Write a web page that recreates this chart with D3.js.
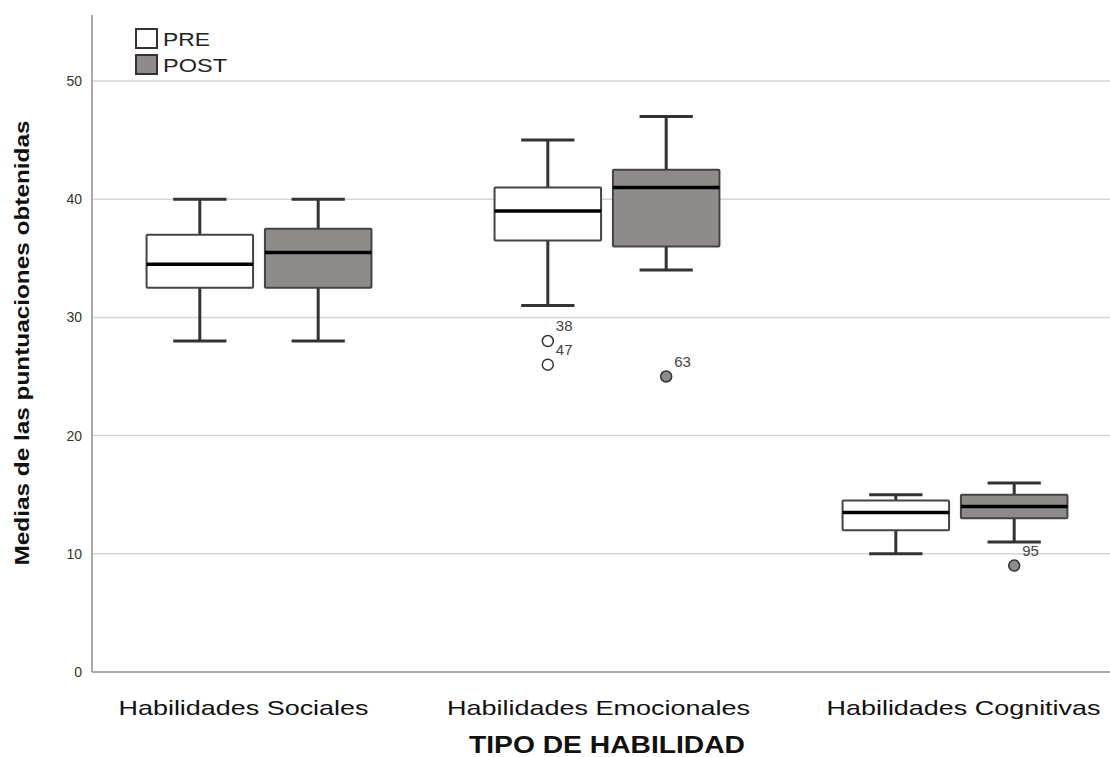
<!DOCTYPE html>
<html><head><meta charset="utf-8">
<script src="https://cdn.jsdelivr.net/npm/d3@7"></script>
<style>body{margin:0;background:#fff}svg{display:block}</style>
</head><body>
<svg id="c" width="1110" height="757"></svg>
<script>
const categories = ["Habilidades Sociales", "Habilidades Emocionales", "Habilidades Cognitivas"];
const groups = ["PRE", "POST"];
// [whiskerLow, q1, median, q3, whiskerHigh]
const preStats  = [[28, 32.5, 34.5, 37, 40], [31, 36.5, 39, 41, 45], [10, 12, 13.5, 14.5, 15]];
const postStats = [[28, 32.5, 35.5, 37.5, 40], [34, 36, 41, 42.5, 47], [11, 13, 14, 15, 16]];
// outliers: [categoryIndex, group, value, caseLabel]
const outliers = [[1, "PRE", 28, "38"], [1, "PRE", 26, "47"], [1, "POST", 25, "63"], [2, "POST", 9, "95"]];
const yTicks = [0, 10, 20, 30, 40, 50];
const fills = {PRE: "#ffffff", POST: "#8f8b8b"};

(function () {
const svg = d3.select("#c");
const mLeft = 92, mRight = 1110, mBottom = 672, mTop = 15;
const y = d3.scaleLinear().domain([0, 50]).range([mBottom, 81]);
const x = d3.scalePoint().domain(categories).range([259, 955]);
const g = d3.scaleBand().domain(groups).range([-116, 116]).paddingInner(0.1).paddingOuter(0.03);
const bw = g.bandwidth();

// gridlines
svg.append("g").selectAll("line").data(yTicks.filter(d => d > 0)).join("line")
  .attr("x1", mLeft).attr("x2", mRight).attr("y1", d => y(d)).attr("y2", d => y(d))
  .attr("stroke", "#d6d6d6").attr("stroke-width", 1.5);

// axes
const yAxis = d3.axisLeft(y).tickValues(yTicks).tickSize(0).tickPadding(10);
const ya = svg.append("g").attr("transform", `translate(${mLeft},0)`).call(yAxis);
ya.select(".domain").remove();
ya.selectAll("text").attr("font-family", "Liberation Sans, Arial, sans-serif").attr("font-size", 14).attr("fill", "#333");
svg.append("line").attr("x1", mLeft).attr("x2", mLeft).attr("y1", mTop).attr("y2", mBottom)
  .attr("stroke", "#a8a8a8").attr("stroke-width", 2);
svg.append("line").attr("x1", mLeft).attr("x2", mRight).attr("y1", mBottom).attr("y2", mBottom)
  .attr("stroke", "#a8a8a8").attr("stroke-width", 2);

const xAxis = d3.axisBottom(x).tickSize(0).tickPadding(28);
const xa = svg.append("g").attr("transform", `translate(0,${mBottom})`).call(xAxis);
xa.select(".domain").remove();
xa.selectAll("text").attr("font-family", "Liberation Sans Narrow, Arial Narrow, Liberation Sans, sans-serif")
  .attr("font-size", 21).attr("fill", "#111").attr("dx", (d, i) => [-16, -9, 8][i])
  .attr("textLength", (d, i) => [250, 303, 274][i]).attr("lengthAdjust", "spacingAndGlyphs");

// boxes
const boxes = [];
categories.forEach((c, i) => {
  boxes.push({c, grp: "PRE", s: preStats[i]});
  boxes.push({c, grp: "POST", s: postStats[i]});
});
const bx = svg.append("g").selectAll("g").data(boxes).join("g")
  .attr("transform", d => `translate(${x(d.c) + g(d.grp)},0)`);
const capW = bw / 2;
bx.append("line").attr("x1", bw / 2).attr("x2", bw / 2).attr("y1", d => y(d.s[4])).attr("y2", d => y(d.s[3]))
  .attr("stroke", "#333").attr("stroke-width", 3);
bx.append("line").attr("x1", bw / 2).attr("x2", bw / 2).attr("y1", d => y(d.s[1])).attr("y2", d => y(d.s[0]))
  .attr("stroke", "#333").attr("stroke-width", 3);
bx.append("line").attr("x1", bw / 2 - capW / 2).attr("x2", bw / 2 + capW / 2).attr("y1", d => y(d.s[4])).attr("y2", d => y(d.s[4]))
  .attr("stroke", "#333").attr("stroke-width", 3);
bx.append("line").attr("x1", bw / 2 - capW / 2).attr("x2", bw / 2 + capW / 2).attr("y1", d => y(d.s[0])).attr("y2", d => y(d.s[0]))
  .attr("stroke", "#333").attr("stroke-width", 3);
bx.append("rect").attr("x", 0).attr("width", bw).attr("y", d => y(d.s[3])).attr("height", d => y(d.s[1]) - y(d.s[3]))
  .attr("fill", d => fills[d.grp]).attr("stroke", "#444").attr("stroke-width", 2).attr("rx", 1);
bx.append("line").attr("x1", 0).attr("x2", bw).attr("y1", d => y(d.s[2])).attr("y2", d => y(d.s[2]))
  .attr("stroke", "#000").attr("stroke-width", 3.5);

// outliers
const og = svg.append("g");
og.selectAll("circle").data(outliers).join("circle")
  .attr("cx", d => x(categories[d[0]]) + g(d[1]) + bw / 2).attr("cy", d => y(d[2])).attr("r", 5.5)
  .attr("fill", d => d[1] === "PRE" ? "#fff" : "#8f8b8b").attr("stroke", "#333").attr("stroke-width", 1.5);
og.selectAll("text").data(outliers).join("text")
  .attr("x", d => x(categories[d[0]]) + g(d[1]) + bw / 2 + 8).attr("y", d => y(d[2]) - 10)
  .attr("font-family", "Liberation Sans, Arial, sans-serif").attr("font-size", 15).attr("fill", "#444")
  .text(d => d[3]);

// titles
svg.append("text").attr("transform", `translate(29,${343}) rotate(-90)`).attr("text-anchor", "middle")
  .attr("font-family", "Liberation Sans Narrow, Arial Narrow, Liberation Sans, sans-serif").attr("font-weight", "bold")
  .attr("font-size", 21).attr("fill", "#111").attr("textLength", 445).attr("lengthAdjust", "spacingAndGlyphs")
  .text("Medias de las puntuaciones obtenidas");
svg.append("text").attr("x", 607).attr("y", 753).attr("text-anchor", "middle")
  .attr("font-family", "Liberation Sans Narrow, Arial Narrow, Liberation Sans, sans-serif").attr("font-weight", "bold")
  .attr("font-size", 23).attr("fill", "#111").attr("textLength", 276).attr("lengthAdjust", "spacingAndGlyphs")
  .text("TIPO DE HABILIDAD");

// legend
const lg = svg.append("g").selectAll("g").data(groups).join("g")
  .attr("transform", (d, i) => `translate(136,${29 + i * 26})`);
lg.append("rect").attr("width", 21).attr("height", 19).attr("fill", d => fills[d]).attr("stroke", "#333").attr("stroke-width", 2);
lg.append("text").attr("x", 27).attr("y", 17).attr("font-family", "Liberation Sans, Arial, sans-serif")
  .attr("font-size", 19).attr("fill", "#222").attr("textLength", d => d === "PRE" ? 47 : 64)
  .attr("lengthAdjust", "spacingAndGlyphs").text(d => d);
})();
</script>
</body></html>
